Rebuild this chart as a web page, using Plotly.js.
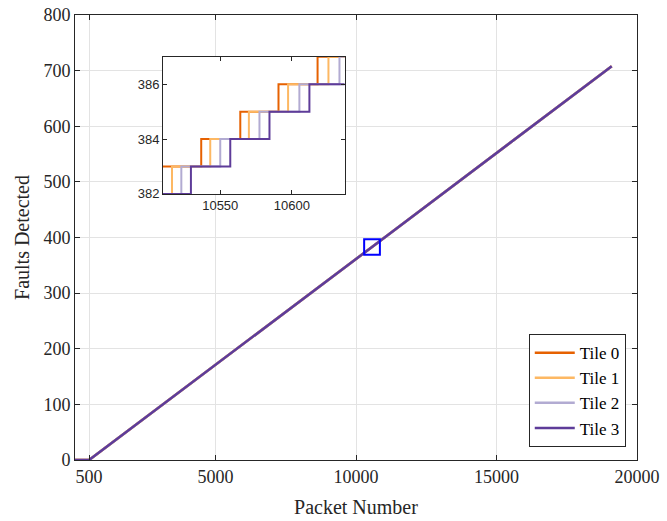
<!DOCTYPE html>
<html>
<head>
<meta charset="utf-8">
<script src="https://cdn.plot.ly/plotly-3.0.1.min.js"></script>
<style>html,body{margin:0;padding:0;background:#fff;}#chart{width:667px;height:521px;}</style>
</head>
<body>
<div id="chart"></div>
<script>
// ---- data ----
const tileNames = ["Tile 0", "Tile 1", "Tile 2", "Tile 3"];
const tileColors = ["#e66101", "#fdb863", "#b2abd2", "#5e3c99"];

// main curve (packet number vs. cumulative faults)
const mainX = [0, 500, 10570, 19100];
const mainY = [0, 0, 383, 708];

// inset: step positions per tile
const tile0InsetX = [10510, 10536.7, 10564, 10590.7, 10618, 10637];
const tile0InsetY = [383, 384, 385, 386, 387, 387];
const tile1InsetX = [10510, 10516.3, 10543, 10570, 10597.4, 10625.6, 10637];
const tile1InsetY = [382, 383, 384, 385, 386, 387, 387];
const tile2InsetX = [10510, 10522.8, 10550, 10577.4, 10605.3, 10633.3, 10637];
const tile2InsetY = [382, 383, 384, 385, 386, 387, 387];
const tile3InsetX = [10510, 10529.5, 10557, 10584.4, 10612.3, 10637];
const tile3InsetY = [382, 383, 384, 385, 386, 386];

const xTicks = [500, 5000, 10000, 15000, 20000];
const yTicks = [0, 100, 200, 300, 400, 500, 600, 700, 800];
const insetXTicks = [10550, 10600];
const insetYTicks = [382, 384, 386];

// zoom box drawn on main axes
const zoomBox = {x0: 10290, x1: 10850, y0: 369, y1: 397};

const insetXs = [tile0InsetX, tile1InsetX, tile2InsetX, tile3InsetX];
const insetYs = [tile0InsetY, tile1InsetY, tile2InsetY, tile3InsetY];

const traces = [];
for (let i = 0; i < 4; i++) {
  traces.push({
    x: mainX, y: mainY, type: "scatter", mode: "lines",
    name: tileNames[i], line: {color: tileColors[i], width: 2.5},
    xaxis: "x", yaxis: "y"
  });
}
for (let i = 0; i < 4; i++) {
  traces.push({
    x: insetXs[i], y: insetYs[i], type: "scatter", mode: "lines",
    name: tileNames[i], showlegend: false,
    line: {color: tileColors[i], width: 2, shape: "hv"},
    xaxis: "x2", yaxis: "y2"
  });
}

const axCol = "#262626";
const serif = "Liberation Serif";
const sans = "Liberation Sans";

const layout = {
  width: 667, height: 521,
  margin: {l: 75, r: 30, t: 15, b: 61},
  paper_bgcolor: "#fff", plot_bgcolor: "#fff",
  showlegend: true,
  font: {family: serif, color: "#262626", size: 18},
  xaxis: {
    domain: [0, 1], range: [0, 20000], tickvals: xTicks, ticktext: xTicks.map(String),
    ticks: "inside", ticklen: 5, tickcolor: axCol, showline: true, linecolor: axCol, linewidth: 1,
    mirror: "ticks", showgrid: true, gridcolor: "#e3e3e3", zeroline: false,
    tickfont: {family: serif, size: 18, color: "#262626"},
    title: {text: "Packet Number", font: {family: serif, size: 20, color: "#262626"}, standoff: 14}
  },
  yaxis: {
    domain: [0, 1], range: [0, 800], tickvals: yTicks, ticktext: yTicks.map(String),
    ticks: "inside", ticklen: 5, tickcolor: axCol, showline: true, linecolor: axCol, linewidth: 1,
    mirror: "ticks", showgrid: true, gridcolor: "#e3e3e3", zeroline: false,
    tickfont: {family: serif, size: 18, color: "#262626"},
    title: {text: "Faults Detected", font: {family: serif, size: 20, color: "#262626"}, standoff: 8}
  },
  xaxis2: {
    domain: [0.1566, 0.480], anchor: "y2", range: [10510, 10637],
    tickvals: insetXTicks, ticktext: insetXTicks.map(String),
    ticks: "inside", ticklen: 4, tickcolor: axCol, showline: true, linecolor: axCol, linewidth: 1,
    mirror: "ticks", showgrid: false, zeroline: false,
    tickfont: {family: sans, size: 13, color: "#262626"}
  },
  yaxis2: {
    domain: [0.598, 0.906], anchor: "x2", range: [382, 387],
    tickvals: insetYTicks, ticktext: insetYTicks.map(String),
    ticks: "inside", ticklen: 4, tickcolor: axCol, showline: true, linecolor: axCol, linewidth: 1,
    mirror: "ticks", showgrid: false, zeroline: false,
    tickfont: {family: sans, size: 13, color: "#262626"}
  },
  shapes: [{
    type: "rect", xref: "x", yref: "y",
    x0: zoomBox.x0, x1: zoomBox.x1, y0: zoomBox.y0, y1: zoomBox.y1,
    line: {color: "#0000ff", width: 2}, fillcolor: "rgba(0,0,0,0)"
  }],
  legend: {
    x: 0.980, y: 0.029, xanchor: "right", yanchor: "bottom",
    bgcolor: "#fff", bordercolor: axCol, borderwidth: 1,
    font: {family: serif, size: 17, color: "#000"},
    tracegroupgap: 0, itemwidth: 40
  }
};

Plotly.newPlot("chart", traces, layout, {displayModeBar: false, staticPlot: true});
</script>
</body>
</html>
